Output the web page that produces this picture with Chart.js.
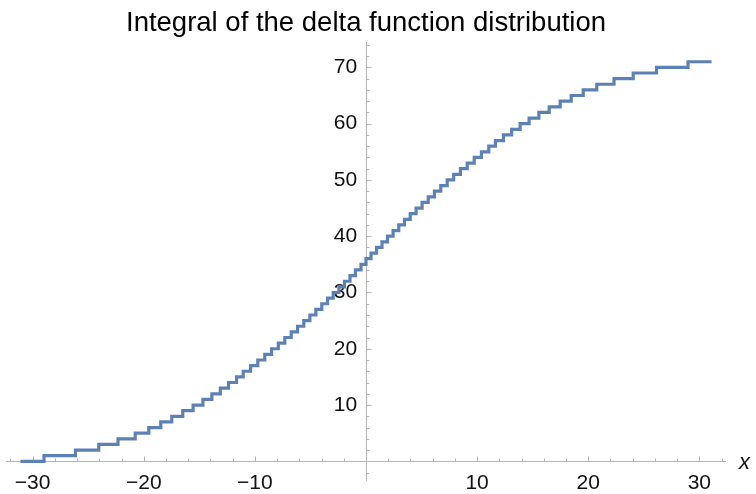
<!DOCTYPE html>
<html>
<head>
<meta charset="utf-8">
<script src="https://cdn.jsdelivr.net/npm/chart.js@4.4.1/dist/chart.umd.min.js"></script>
<style>
  html, body { margin: 0; padding: 0; background: #ffffff; }
  #wrap { width: 756px; height: 494px; }
</style>
</head>
<body>
<div id="wrap"><canvas id="myChart"></canvas></div>
<script>
// positions of the unit deltas
const deltaPositions = [
  -28.98, -26.15, -24.05, -22.32, -20.77, -19.55, -18.47, -17.48, -16.49, -15.56,
  -14.68, -13.87, -13.11, -12.37, -11.65, -11.05, -10.39, -9.74, -9.11, -8.50,
  -7.89, -7.31, -6.73, -6.16, -5.60, -5.05, -4.51, -3.98, -3.46, -2.95,
  -2.44, -1.94, -1.44, -0.95, -0.45, 0,
  0.45, 0.95, 1.44, 1.94, 2.44, 2.95, 3.46, 3.98, 4.51, 5.05,
  5.60, 6.16, 6.73, 7.31, 7.89, 8.50, 9.11, 9.74, 10.39, 11.05,
  11.65, 12.37, 13.11, 13.87, 14.68, 15.56, 16.49, 17.48, 18.47, 19.55,
  20.77, 22.32, 24.05, 26.15, 28.98
];
// running value of the integral (level before first delta, then after each one)
const levels = [
  0, 1, 2, 3, 4, 5, 6, 7, 8, 9, 10,
  11, 12, 13, 14, 15, 16, 17, 18, 19, 20,
  21, 22, 23, 24, 25, 26, 27, 28, 29, 30,
  31, 32, 33, 34, 35, 36, 37, 38, 39, 40,
  41, 42, 43, 44, 45, 46, 47, 48, 49, 50,
  51, 52, 53, 54, 55, 56, 57, 58, 59, 60,
  61, 62, 63, 64, 65, 66, 67, 68, 69, 70, 71
];
const plotStart = -31.1;
const plotEnd = 31.1;

const xTickValues = [-30, -20, -10, 10, 20, 30];
const yTickValues = [10, 20, 30, 40, 50, 60, 70];

const xMin = -32.4, xMax = 32.4;
const yMin = -3.5, yMax = 74.6;

const axisColor = '#b4b4b4';
const lineColor = '#5e81b5';
const fontFamily = "'Liberation Sans', Arial, sans-serif";

window.onload = () => {
    const ctx = document.getElementById('myChart');

    const points = [{x: plotStart, y: levels[0]}];
    deltaPositions.forEach((p, i) => points.push({x: p, y: levels[i + 1]}));
    points.push({x: plotEnd, y: levels[levels.length - 1]});

    const minus = v => (v < 0 ? '\u2212' + Math.abs(v) : String(v));

    // Mathematica-like axes: lines through the origin, ticks pointing inward
    const axesPlugin = {
        id: 'mmaAxes',
        beforeDatasetsDraw(chart) {
            const c = chart.ctx;
            const xs = chart.scales.x, ys = chart.scales.y;
            const x0 = Math.round(xs.getPixelForValue(0)) + 0.5;
            const y0 = Math.round(ys.getPixelForValue(0)) + 0.5;
            c.save();
            c.strokeStyle = axisColor;
            c.lineWidth = 1;
            c.beginPath();
            c.moveTo(xs.left, y0); c.lineTo(xs.right, y0);
            c.moveTo(x0, ys.top); c.lineTo(x0, ys.bottom);
            for (let v = -32; v <= 32; v += 2) {
                if (v === 0) continue;
                const px = Math.round(xs.getPixelForValue(v)) + 0.5;
                const len = v % 10 === 0 ? 5 : 3;
                c.moveTo(px, y0); c.lineTo(px, y0 - len);
            }
            for (let v = -2; v <= 74; v += 2) {
                if (v === 0) continue;
                const py = Math.round(ys.getPixelForValue(v)) + 0.5;
                const len = v % 10 === 0 ? 5 : 3;
                c.moveTo(x0, py); c.lineTo(x0 + len, py);
            }
            c.stroke();
            c.restore();
        },
        afterDraw(chart) {
            const c = chart.ctx;
            const ys = chart.scales.y;
            c.save();
            c.fillStyle = '#111111';
            c.font = 'italic 22px ' + fontFamily;
            c.textAlign = 'left';
            c.textBaseline = 'middle';
            c.fillText('x', 739, ys.getPixelForValue(0) + 2);
            c.restore();
        }
    };

    new Chart(ctx, {
        type: 'line',
        data: {
            datasets: [{
                data: points,
                stepped: true,
                borderColor: lineColor,
                borderWidth: 3.2,
                pointRadius: 0,
                fill: false,
                borderJoinStyle: 'miter',
                borderCapStyle: 'butt'
            }]
        },
        options: {
            responsive: true,
            maintainAspectRatio: false,
            animation: false,
            layout: {
                padding: {left: 6, right: 30, top: 0, bottom: 13}
            },
            plugins: {
                legend: { display: false },
                tooltip: { enabled: false },
                title: {
                    display: true,
                    text: 'Integral of the delta function distribution',
                    color: '#000000',
                    font: { family: fontFamily, size: 27.5, weight: 'normal' },
                    padding: { top: 7, bottom: 1.5 }
                }
            },
            scales: {
                x: {
                    type: 'linear',
                    min: xMin,
                    max: xMax,
                    position: { y: 0 },
                    afterBuildTicks: s => { s.ticks = xTickValues.map(v => ({value: v})); },
                    grid: { display: false, drawTicks: false },
                    border: { display: false },
                    ticks: {
                        color: '#111111',
                        font: { family: fontFamily, size: 21 },
                        padding: 9,
                        maxRotation: 0,
                        callback: v => minus(v)
                    }
                },
                y: {
                    type: 'linear',
                    min: yMin,
                    max: yMax,
                    // labels sit right-aligned a little left of the x = 0 axis line
                    position: { x: -0.8 },
                    afterBuildTicks: s => { s.ticks = yTickValues.map(v => ({value: v})); },
                    grid: { display: false, drawTicks: false },
                    border: { display: false },
                    ticks: {
                        color: '#111111',
                        font: { family: fontFamily, size: 21 },
                        padding: 0,
                        callback: v => minus(v)
                    }
                }
            }
        },
        plugins: [axesPlugin]
    });
};
</script>
</body>
</html>
